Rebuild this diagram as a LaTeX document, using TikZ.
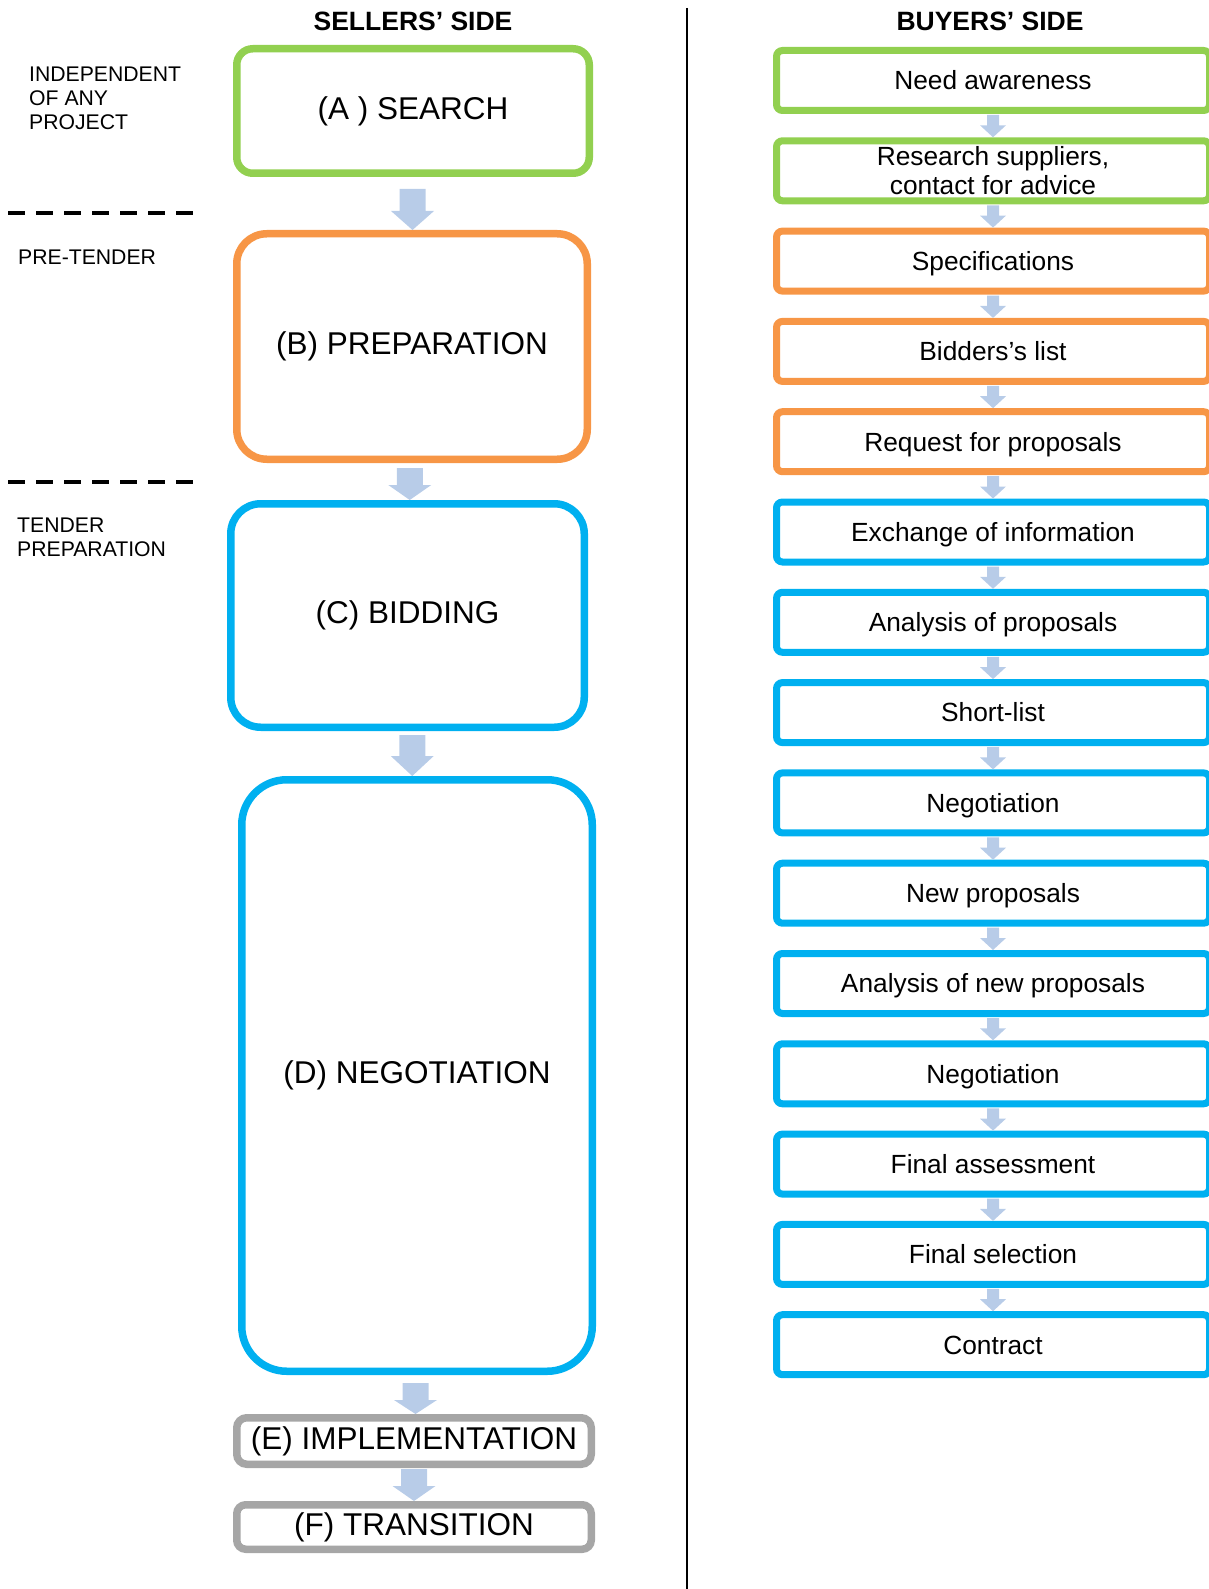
\documentclass[tikz,border=0pt]{standalone}
\usepackage{fontspec}
\setmainfont{Liberation Sans}
\usetikzlibrary{calc}

\definecolor{stagegreen}{RGB}{146,208,80}
\definecolor{stageorange}{RGB}{247,150,70}
\definecolor{stageblue}{RGB}{0,176,240}
\definecolor{stagegray}{RGB}{166,166,166}
\definecolor{arrowblue}{RGB}{184,204,232}

% Block arrow from the bottom of node #1 to the top of node #2
% #3 gap below source, #4 head length, #5 half shaft width, #6 half head width
\newcommand\blockarrow[6]{%
  \coordinate (ba-m) at ($(#1.south)!.5!(#2.north)$);
  \coordinate (ba-s) at (ba-m |- #1.south);
  \coordinate (ba-t) at (ba-m |- #2.north);
  \fill[arrowfill] ($(ba-s)+(-#5,#3)$) -- ($(ba-s)+(#5,#3)$)
    -- ($(ba-t)+(#5,-#4)$) -- ($(ba-t)+(#6,-#4)$) -- (ba-t)
    -- ($(ba-t)+(-#6,-#4)$) -- ($(ba-t)+(-#5,-#4)$) -- cycle;}

\begin{document}
\begin{tikzpicture}[x=1pt,y=-1pt,
  sbox/.style={draw=#1, line width=7.5pt, fill=white, inner sep=0pt,
    align=center, font=\fontsize{31.5}{36}\selectfont},
  rbox/.style={draw=#1, line width=7pt, rounded corners=6pt, fill=white,
    minimum width=433pt, minimum height=60pt, inner sep=0pt, align=center,
    font=\fontsize{26.3}{29}\selectfont},
  rtext/.style={text height=22pt, text depth=3.4pt},
  arrowfill/.style={fill=arrowblue},
  sidelabel/.style={anchor=north west, inner sep=0pt, align=left,
    font=\fontsize{21.2}{24.3}\selectfont},
  heading/.style={inner sep=0pt, font=\fontsize{26.5}{30}\selectfont\bfseries}]

\useasboundingbox (0,0) rectangle (1208,1589);

% column headings and separator
\node[heading] (hsell) at (413,21) {SELLERS’ SIDE};
\node[heading] (hbuy) at (990,21) {BUYERS’ SIDE};
\draw[line width=2.5pt] (687,8) -- (687,1589);

% phase labels and dividers on the far left
\node[sidelabel] (lindep) at (29,66.5) {INDEPENDENT\\OF ANY\\PROJECT};
\node[sidelabel] (lpre) at (18,249.5) {PRE-TENDER};
\node[sidelabel] (ltender) at (17,517.5) {TENDER\\PREPARATION};
\draw[line width=4pt, dash pattern=on 17pt off 11pt] (8,213) -- (193,213);
\draw[line width=4pt, dash pattern=on 17pt off 11pt] (8,482) -- (193,482);

% sellers' stages
\node[sbox=stagegreen, rounded corners=16pt, minimum width=352.5pt, minimum height=124.5pt] (A) at (413,111) {(A ) SEARCH};
\node[sbox=stageorange, rounded corners=30pt, minimum width=350.5pt, minimum height=225.5pt] (B) at (412,346.5) {(B) PREPARATION};
\node[sbox=stageblue, rounded corners=30pt, minimum width=353.5pt, minimum height=223.5pt] (C) at (407.5,615.5) {(C) BIDDING};
\node[sbox=stageblue, rounded corners=45pt, minimum width=350.5pt, minimum height=591.5pt] (D) at (417,1075.5) {(D) NEGOTIATION};
\node[sbox=stagegray, rounded corners=10pt, minimum width=354.5pt, minimum height=46.5pt] (E) at (414,1441) {(E) IMPLEMENTATION};
\node[sbox=stagegray, rounded corners=9pt, minimum width=354.5pt, minimum height=44.5pt] (F) at (414,1527) {(F) TRANSITION};

\blockarrow{A}{B}{12}{19}{13}{21.5}
\blockarrow{B}{C}{5}{15}{13}{21.5}
\blockarrow{C}{D}{4}{20}{13}{21.5}
\blockarrow{D}{E}{8}{14}{13}{21.5}
\blockarrow{E}{F}{1}{15}{13}{21.5}

% buyers' steps
\node[rbox=stagegreen, rtext] (r0) at (993,80.5) {Need awareness};
\node[rbox=stagegreen] (r1) at (993,170.8) {Research suppliers,\\contact for advice};
\node[rbox=stageorange, rtext] (r2) at (993,261.1) {Specifications};
\node[rbox=stageorange, rtext] (r3) at (993,351.4) {Bidders's list};
\node[rbox=stageorange, rtext] (r4) at (993,441.7) {Request for proposals};
\node[rbox=stageblue, rtext] (r5) at (993,532.0) {Exchange of information};
\node[rbox=stageblue, rtext] (r6) at (993,622.3) {Analysis of proposals};
\node[rbox=stageblue, rtext] (r7) at (993,712.6) {Short-list};
\node[rbox=stageblue, rtext] (r8) at (993,802.9) {Negotiation};
\node[rbox=stageblue, rtext] (r9) at (993,893.2) {New proposals};
\node[rbox=stageblue, rtext] (r10) at (993,983.5) {Analysis of new proposals};
\node[rbox=stageblue, rtext] (r11) at (993,1073.8) {Negotiation};
\node[rbox=stageblue, rtext] (r12) at (993,1164.1) {Final assessment};
\node[rbox=stageblue, rtext] (r13) at (993,1254.4) {Final selection};
\node[rbox=stageblue, rtext] (r14) at (993,1344.7) {Contract};

\foreach \i in {0,...,13}{
  \pgfmathtruncatemacro\j{\i+1}
  \blockarrow{r\i}{r\j}{1}{12}{6}{13}
}

\end{tikzpicture}
\end{document}
